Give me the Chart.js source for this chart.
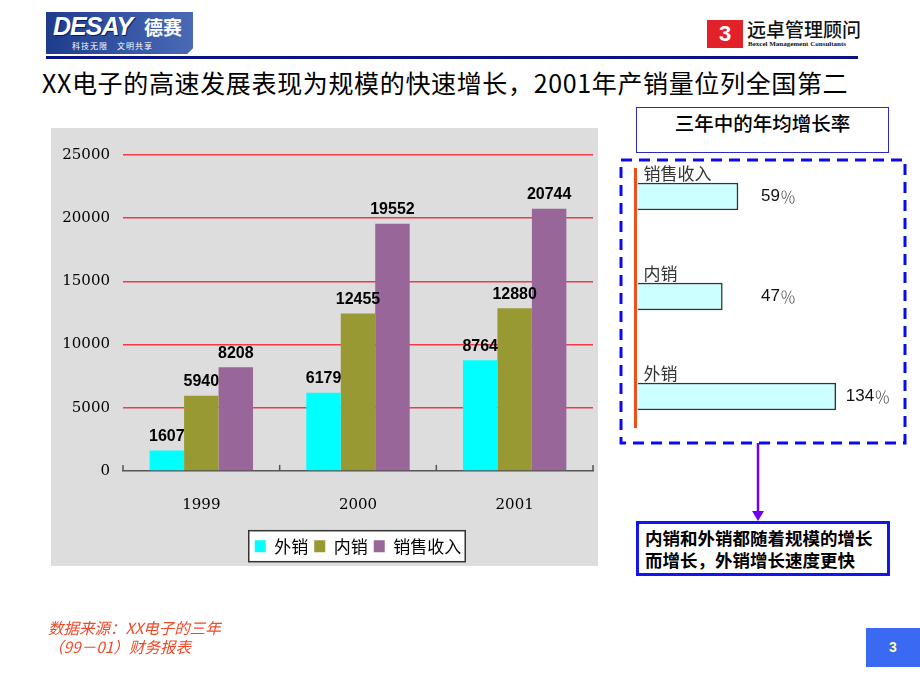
<!DOCTYPE html>
<html>
<head>
<meta charset="utf-8">
<script src="https://cdn.jsdelivr.net/npm/chart.js@4.4.1/dist/chart.umd.min.js"></script>
<style>
  body { margin: 0; width: 920px; height: 690px; background: #fff; position: relative; overflow: hidden; font-family: "Noto Sans CJK SC", sans-serif; }
  .abs { position: absolute; }
  #logoL { left: 46px; top: 12px; width: 147px; height: 42px; background: linear-gradient(90deg, #1e3c8c, #4a6ab6); overflow: hidden; }
  #logoL .brand { position: absolute; left: 7px; top: 0px; font: italic 900 25px "Liberation Sans", Arial, sans-serif; color: #fff; text-shadow: 1px 1px 0 #0a1a66; letter-spacing: -1px; }
  #logoL .cn { position: absolute; left: 98px; top: 1px; font: 700 19px "Noto Sans CJK SC"; color: #fff; }
  #logoL .sub { position: absolute; left: 26px; top: 28px; font: 8px "Noto Sans CJK SC"; color: #fff; letter-spacing: 1px; }
  #logoL .slash { position: absolute; right: -4px; bottom: -10px; width: 4px; height: 30px; background: #fff; transform: rotate(45deg); }
  #rule { left: 46px; top: 56px; width: 812px; height: 3px; background: #0b1382; }
  #logoR { left: 707px; top: 20px; width: 36px; height: 28px; background: #e2212b; color: #fff; font: 900 22px "Liberation Sans", Arial; text-align: center; line-height: 28px; }
  #logoRtext { left: 747px; top: 15px; font: 500 19px "Noto Sans CJK SC"; color: #111; }
  #logoRsub { left: 748px; top: 40px; font: bold 7px "Liberation Serif", serif; color: #111; }
  #title { left: 42px; top: 64px; font: 400 25px "Noto Sans CJK SC"; letter-spacing: 0.65px; color: #000; white-space: nowrap; }
  #mainWrap { left: 51px; top: 128px; width: 547px; height: 438px; background: #dddddd; }
  #growthTitle { left: 636px; top: 107px; width: 251px; height: 44px; border: 1.5px solid #2a2acc; text-align: center; line-height: 44px; font: 500 19.5px "Noto Sans CJK SC"; color: #000; }
  #growthWrap { left: 610px; top: 140px; width: 310px; height: 320px; }
  #note { left: 636px; top: 521px; width: 242px; height: 46px; border: 3px solid #1414f0; background: #fff; font: 700 17.5px "Noto Sans CJK SC"; line-height: 22px; padding: 3px 0 0 6px; color: #000; white-space: nowrap; }
  #page { left: 866px; top: 628px; width: 54px; height: 39px; background: #3a6af2; color: #ffff99; font: bold 14px "Liberation Sans", Arial; text-align: center; line-height: 39px; }
  #source { left: 48px; top: 618px; font: italic 15.5px "Noto Sans CJK SC"; line-height: 19px; color: #ee4a2a; }
</style>
</head>
<body>
<div id="logoL" class="abs"><span class="brand">DESAY</span><span class="cn">德赛</span><span class="sub">科技无限　文明共享</span><span class="slash"></span></div>
<div id="rule" class="abs"></div>
<div id="logoR" class="abs">3</div>
<div id="logoRtext" class="abs">远卓管理顾问</div>
<div id="logoRsub" class="abs">Bexcel Management Consultants</div>
<div id="title" class="abs">XX电子的高速发展表现为规模的快速增长，2001年产销量位列全国第二</div>

<div id="mainWrap" class="abs"><canvas id="salesChart" width="547" height="438"></canvas></div>

<div id="growthTitle" class="abs">三年中的年均增长率</div>
<div id="growthWrap" class="abs"><canvas id="growthChart" width="310" height="320"></canvas></div>

<svg class="abs" style="left:0;top:0" width="920" height="690">
  <line x1="758" y1="443" x2="758" y2="512" stroke="#7000f0" stroke-width="2.5"/>
  <polygon points="752,511 764,511 758,521" fill="#7000f0"/>
</svg>
<div id="note" class="abs">内销和外销都随着规模的增长<br>而增长，外销增长速度更快</div>
<div id="page" class="abs">3</div>
<div id="source" class="abs">数据来源：XX电子的三年<br>（99－01）财务报表</div>

<script>
const years = ["1999", "2000", "2001"];
const exportSales = [1607, 6179, 8764];
const domesticSales = [5940, 12455, 12880];
const salesRevenue = [8208, 19552, 20744];
const seriesNames = ["外销", "内销", "销售收入"];

const growthLabels = ["销售收入", "内销", "外销"];
const growthRates = [59, 47, 134];

// numbers above every bar
const barValues = {
  id: "barValues",
  afterDatasetsDraw(chart) {
    const ctx = chart.ctx;
    ctx.save();
    ctx.font = 'bold 16px "Liberation Sans Narrow", "Liberation Sans", Arial';
    ctx.fillStyle = "#000";
    ctx.textAlign = "center";
    ctx.textBaseline = "bottom";
    chart.data.datasets.forEach((ds, i) => {
      chart.getDatasetMeta(i).data.forEach((bar, j) => {
        ctx.fillText(ds.data[j], bar.x, bar.y - 6);
      });
    });
    ctx.restore();
  }
};

// small marks between the year groups, pointing up from the axis
const groupTicks = {
  id: "groupTicks",
  afterDraw(chart) {
    const a = chart.chartArea, ctx = chart.ctx;
    const step = (a.right - a.left) / years.length;
    ctx.save();
    ctx.strokeStyle = "#555";
    ctx.lineWidth = 1.5;
    for (let i = 0; i <= years.length; i++) {
      const px = a.left + i * step;
      ctx.beginPath();
      ctx.moveTo(px, a.bottom);
      ctx.lineTo(px, a.bottom - 6);
      ctx.stroke();
    }
    ctx.restore();
  }
};

// centre the legend under the plot, then give it a white framed box
const legendFrame = {
  id: "legendFrame",
  afterLayout(chart) {
    const lg = chart.legend, a = chart.chartArea;
    const dx = (a.left + a.right) / 2 - (lg.left + lg.right) / 2;
    lg.left += dx;
    lg.right += dx;
  },
  beforeDraw(chart) {
    const boxes = chart.legend.legendHitBoxes;
    if (!boxes || !boxes.length) return;
    const l = Math.min(...boxes.map(b => b.left)) - 6;
    const r = Math.max(...boxes.map(b => b.left + b.width)) + 4;
    const cy = boxes[0].top + boxes[0].height / 2;
    const ctx = chart.ctx;
    ctx.save();
    ctx.fillStyle = "#fff";
    ctx.fillRect(l, cy - 15.5, r - l, 31);
    ctx.strokeStyle = "#333";
    ctx.lineWidth = 1.5;
    ctx.strokeRect(l, cy - 15.5, r - l, 31);
    ctx.restore();
  }
};

new Chart(document.getElementById("salesChart"), {
  type: "bar",
  data: {
    labels: years,
    datasets: [
      { label: seriesNames[0], data: exportSales, backgroundColor: "#00ffff" },
      { label: seriesNames[1], data: domesticSales, backgroundColor: "#999933" },
      { label: seriesNames[2], data: salesRevenue, backgroundColor: "#996699" },
    ],
  },
  options: {
    responsive: false,
    animation: false,
    devicePixelRatio: 1,
    categoryPercentage: 0.66,
    barPercentage: 1,
    layout: { padding: { top: 27, right: 5, bottom: 1.3, left: 0 } },
    scales: {
      x: {
        grid: { display: false, drawTicks: false },
        border: { color: "#555", width: 1.5 },
        ticks: { color: "#000", font: { family: "DejaVu Serif", size: 15 }, padding: 25.5 },
        afterFit(s) { s.height = 60.8; },
      },
      y: {
        min: 0,
        max: 25000,
        ticks: { stepSize: 5000, color: "#000", font: { family: "DejaVu Serif", size: 15 }, padding: 13, callback: v => String(v) },
        grid: { color: c => (c.tick.value === 0 ? "rgba(0,0,0,0)" : "#f03a4a"), lineWidth: 1.5, drawTicks: false },
        border: { display: false },
        afterFit(s) { s.width = 72; },
      },
    },
    plugins: {
      legend: {
        position: "bottom",
        labels: { boxWidth: 11, boxHeight: 12, padding: 6, color: "#000", font: { family: "Noto Sans CJK SC", size: 17 } },
      },
      tooltip: { enabled: false },
    },
  },
  plugins: [barValues, groupTicks, legendFrame],
});

// dashed frame, orange base line, bar names and rates
const growthDecor = {
  id: "growthDecor",
  afterDatasetsDraw(chart) {
    const ctx = chart.ctx, a = chart.chartArea;
    ctx.save();
    ctx.strokeStyle = "#0a0aee";
    ctx.lineWidth = 3;
    ctx.setLineDash([11, 7]);
    ctx.strokeRect(11, 20, 284, 283);
    ctx.setLineDash([]);
    ctx.strokeStyle = "#f04e1a";
    ctx.beginPath();
    ctx.moveTo(a.left - 2, 28);
    ctx.lineTo(a.left - 2, 288);
    ctx.stroke();
    const meta = chart.getDatasetMeta(0);
    meta.data.forEach((bar, i) => {
      ctx.textAlign = "left";
      ctx.textBaseline = "middle";
      ctx.font = '17px "Noto Sans CJK SC"';
      ctx.fillStyle = "#333";
      ctx.fillText(growthLabels[i], bar.base + 6, bar.y - bar.height / 2 - 9);
      const num = String(growthRates[i]);
      const x0 = Math.max(bar.x + 10, a.left + 123.5);
      ctx.font = '17px "Liberation Sans", Arial';
      ctx.fillStyle = "#111";
      ctx.fillText(num, x0, bar.y);
      const w = ctx.measureText(num).width;
      ctx.font = '300 16px "Noto Sans CJK SC"';
      ctx.fillStyle = "#444";
      ctx.fillText("％", x0 + w, bar.y);
    });
    ctx.restore();
  }
};

new Chart(document.getElementById("growthChart"), {
  type: "bar",
  data: {
    labels: growthLabels,
    datasets: [{
      data: growthRates,
      base: -18,
      backgroundColor: "#ccffff",
      borderColor: "#333",
      borderWidth: 1.5,
      barThickness: 27,
    }],
  },
  options: {
    indexAxis: "y",
    responsive: false,
    animation: false,
    devicePixelRatio: 1,
    layout: { padding: { left: 27.5, right: 15, top: 6.5, bottom: 13.5 } },
    scales: {
      x: { display: false, min: -18, max: 187 },
      y: { display: false },
    },
    plugins: { legend: { display: false }, tooltip: { enabled: false } },
  },
  plugins: [growthDecor],
});
</script>
</body>
</html>
